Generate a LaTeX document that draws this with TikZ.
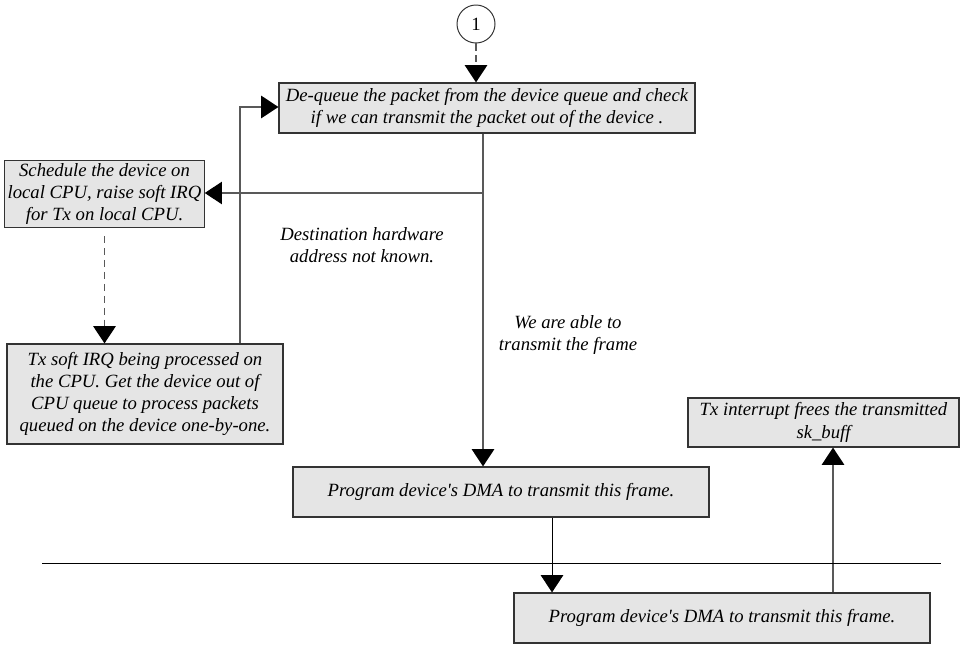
\documentclass[tikz,border=0pt]{standalone}
\usepackage{fontspec}
\setmainfont{Liberation Serif}
\usetikzlibrary{arrows.meta}
\tikzset{
  box/.style={draw=black!80, fill=black!10, line width=0.85pt, align=center, inner sep=2pt},
  conn/.style={draw=black!65, line width=0.85pt, -{Triangle[width=0.56cm,length=0.43cm,black]}},
  dconn/.style={conn, dash pattern=on 5pt off 3.5pt},
  note/.style={align=center}
}
\begin{document}
\begin{tikzpicture}[every node/.style={font=\fontsize{13.3}{15.8}\selectfont\itshape}]
    \useasboundingbox (0,0) rectangle (24,16.125);
    % --- caixas do fluxo de transmissao ---
    \node[draw=black!80, line width=0.7pt, circle, minimum size=0.95cm, inner sep=0pt,
          font=\fontsize{13.3}{15.8}\selectfont] (start) at (11.9,15.525) {1};
    \node[box, minimum width=10.4cm, minimum height=1.25cm] (deq) at (12.175,13.425)
      {De-queue the packet from the device queue and check\\
       if we can transmit the packet out of the device .};
    \node[box, minimum width=4.925cm, minimum height=1.6cm] (sched) at (2.6125,11.275)
      {Schedule the device on\\local CPU, raise soft IRQ\\for Tx on local CPU.};
    \node[box, minimum width=6.9cm, minimum height=2.5cm] (softirq) at (3.625,6.275)
      {Tx soft IRQ being processed on\\the CPU. Get the device out of\\
       CPU queue to process packets\\queued on the device one-by-one.};
    \node[box, minimum width=10.4cm, minimum height=1.25cm] (dma) at (12.525,3.825)
      {Program device\textquotesingle s DMA to transmit this frame.};
    \node[box, minimum width=6.775cm, minimum height=1.225cm] (txfree) at (20.5875,5.5625)
      {Tx interrupt frees the transmitted\\sk\_buff};
    \node[box, minimum width=10.4cm, minimum height=1.25cm] (dmahw) at (18.05,0.675)
      {Program device\textquotesingle s DMA to transmit this frame.};

    % rotulos dos ramos
    \node[note] (nohw) at (9.05,10.0) {Destination hardware\\address not known.};
    \node[note] (canTx) at (14.2,7.75) {We are able to\\transmit the frame};

    % pontos de desvio
    \coordinate (split) at (12.075,11.3);
    \coordinate (back) at (6.0,13.45);
    \coordinate (down) at (13.8,0);
    \coordinate (up) at (20.825,0);

    % --- conectores ---
    \draw[dconn] (start) -- (start |- deq.north);
    \draw[conn] (split |- deq.south) -- (split |- dma.north);
    \draw[conn] (split) -- (sched.east |- split);
    \draw[dconn] ([yshift=-0.2cm]sched.south) -- (softirq.north -| sched.south);
    \draw[conn] (back |- softirq.north) -- (back) -- (deq.west |- back);
    \draw[conn, draw=black, line width=0.6pt] (down |- dma.south) -- (down |- dmahw.north);
    \draw[conn] (up |- dmahw.north) -- (up |- txfree.south);

    % fronteira software / hardware
    \coordinate (lineL) at (1.05,2.05);
    \coordinate (lineR) at (23.525,2.05);
    \draw[black, line width=0.7pt] (lineL) -- (lineR);
\end{tikzpicture}
\end{document}
